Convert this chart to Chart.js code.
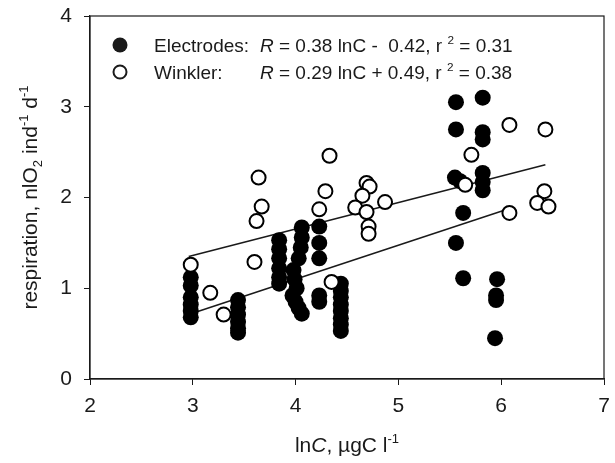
<!DOCTYPE html>
<html>
<head>
<meta charset="utf-8">
<script src="https://cdn.jsdelivr.net/npm/chart.js@4"></script>
<style>
  body { margin: 0; background: #fff; }
  #wrap { width: 615px; height: 463px; }
</style>
</head>
<body>
<div id="wrap"><canvas id="chart" width="615" height="463"></canvas></div>
<script>
// Electrodes (filled circles)
const electrodeX = [2.98, 2.98, 2.98, 2.98, 2.98, 2.98,
  3.44, 3.44, 3.44, 3.44, 3.44, 3.44,
  3.84, 3.84, 3.84, 3.84, 3.84, 3.84,
  4.06, 4.06, 4.05, 4.03, 3.98, 3.99, 4.01, 3.97, 4.0, 4.03, 4.06,
  4.23, 4.23, 4.23, 4.23, 4.23,
  4.44, 4.44, 4.44, 4.44, 4.44, 4.44, 4.44, 4.44,
  5.56, 5.56, 5.55, 5.6, 5.63, 5.56, 5.63,
  5.82, 5.82, 5.82, 5.82, 5.82, 5.82,
  5.96, 5.95, 5.95, 5.94];
const electrodeY = [1.12, 1.03, 0.9, 0.82, 0.75, 0.68,
  0.87, 0.79, 0.71, 0.63, 0.56, 0.51,
  1.53, 1.43, 1.33, 1.22, 1.12, 1.05,
  1.67, 1.56, 1.45, 1.33, 1.2, 1.1, 1.0, 0.92, 0.85, 0.78, 0.72,
  1.68, 1.5, 1.33, 0.92, 0.85,
  1.05, 0.97, 0.9, 0.82, 0.75, 0.67, 0.6, 0.53,
  3.05, 2.75, 2.22, 2.18, 1.83, 1.5, 1.11,
  3.1, 2.72, 2.64, 2.27, 2.17, 2.08,
  1.1, 0.92, 0.87, 0.45];

// Winkler (open circles)
const winklerX = [2.98, 3.17, 3.3, 3.64, 3.67, 3.62, 3.6,
  4.23, 4.29, 4.33, 4.35,
  4.69, 4.72, 4.65, 4.58, 4.69, 4.87, 4.71, 4.71,
  5.65, 5.71, 6.08, 6.08, 6.43, 6.42, 6.35, 6.46];
const winklerY = [1.26, 0.95, 0.71, 2.22, 1.9, 1.74, 1.29,
  1.87, 2.07, 2.46, 1.07,
  2.16, 2.12, 2.02, 1.89, 1.84, 1.95, 1.68, 1.6,
  2.14, 2.47, 2.8, 1.83, 2.75, 2.07, 1.94, 1.9];

// regression line end points
const electrodeFitX = [2.96, 6.03];
const electrodeFitY = [0.71, 1.86];
const winklerFitX = [2.96, 6.43];
const winklerFitY = [1.35, 2.36];

const xTicks = [2, 3, 4, 5, 6, 7];
const yTicks = [0, 1, 2, 3, 4];

const toPoints = (xs, ys) => xs.map((x, i) => ({ x, y: ys[i] }));

const FONT = "Liberation Sans, Arial, sans-serif";
const INK = "#1a1a1a";

// draws text runs with italic / sup / sub pieces
const drawRuns = (ctx, runs, x, y, size) => {
  runs.forEach(([text, style]) => {
    let fs = size, dy = 0;
    if (style === "sup") { fs = size * 0.62; dy = -size * 0.42; }
    if (style === "sub") { fs = size * 0.62; dy = size * 0.22; }
    ctx.font = (style === "i" ? "italic " : "") + fs + "px " + FONT;
    ctx.fillText(text, x, y + dy);
    x += ctx.measureText(text).width;
  });
  return x;
};

const runsWidth = (ctx, runs, size) => {
  let w = 0;
  runs.forEach(([text, style]) => {
    const fs = (style === "sup" || style === "sub") ? size * 0.62 : size;
    ctx.font = (style === "i" ? "italic " : "") + fs + "px " + FONT;
    w += ctx.measureText(text).width;
  });
  return w;
};

const decorPlugin = {
  id: "decor",
  afterDraw(chart) {
    const { ctx, chartArea: a } = chart;
    ctx.save();
    // frame
    ctx.strokeStyle = INK;
    ctx.lineWidth = 1.2;
    ctx.strokeRect(a.left, a.top, a.right - a.left, a.bottom - a.top);

    ctx.fillStyle = INK;
    ctx.textBaseline = "alphabetic";

    // x axis title
    const ts = 21;
    const xRuns = [["ln", ""], ["C", "i"], [", \u00b5gC l", ""], ["-1", "sup"]];
    const xw = runsWidth(ctx, xRuns, ts);
    drawRuns(ctx, xRuns, (a.left + a.right) / 2 - xw / 2, 452, ts);

    // y axis title (rotated)
    const yRuns = [["respiration, nlO", ""], ["2", "sub"], [" ind", ""], ["-1", "sup"], [" d", ""], ["-1", "sup"]];
    const yw = runsWidth(ctx, yRuns, ts);
    ctx.save();
    ctx.translate(37, (a.top + a.bottom) / 2);
    ctx.rotate(-Math.PI / 2);
    drawRuns(ctx, yRuns, -yw / 2, 0, ts);
    ctx.restore();

    // legend
    const ls = 19;
    ctx.lineWidth = 2;
    ctx.beginPath();
    ctx.arc(120, 45, 7.5, 0, Math.PI * 2);
    ctx.fill();
    ctx.beginPath();
    ctx.arc(120, 72, 6.5, 0, Math.PI * 2);
    ctx.fillStyle = "#fff";
    ctx.fill();
    ctx.stroke();
    ctx.fillStyle = INK;

    drawRuns(ctx, [["Electrodes:", ""]], 154, 52, ls);
    drawRuns(ctx, [["R", "i"], [" = 0.38 lnC -  0.42, r ", ""], ["2", "sup"], [" = 0.31", ""]], 260, 52, ls);
    drawRuns(ctx, [["Winkler:", ""]], 154, 79, ls);
    drawRuns(ctx, [["R", "i"], [" = 0.29 lnC + 0.49, r ", ""], ["2", "sup"], [" = 0.38", ""]], 260, 79, ls);
    ctx.restore();
  },
};

const lineSet = (xs, ys) => ({
  data: toPoints(xs, ys),
  showLine: true,
  borderColor: INK,
  borderWidth: 1.5,
  pointRadius: 0,
  fill: false,
  order: 3,
});

new Chart(document.getElementById("chart"), {
  type: "scatter",
  data: {
    datasets: [
      lineSet(electrodeFitX, electrodeFitY),
      lineSet(winklerFitX, winklerFitY),
      {
        label: "Electrodes",
        data: toPoints(electrodeX, electrodeY),
        pointRadius: 8,
        pointBackgroundColor: "#000",
        pointBorderColor: "#000",
        pointBorderWidth: 0,
        order: 2,
      },
      {
        label: "Winkler",
        data: toPoints(winklerX, winklerY),
        pointRadius: 7,
        pointBackgroundColor: "#fff",
        pointBorderColor: "#000",
        pointBorderWidth: 2,
        order: 1,
      },
    ],
  },
  options: {
    responsive: false,
    animation: false,
    layout: { padding: { top: 16, right: 11, left: 0, bottom: 0 } },
    plugins: { legend: { display: false }, tooltip: { enabled: false } },
    scales: {
      x: {
        type: "linear",
        min: 2,
        max: 7,
        afterBuildTicks: scale => { scale.ticks = xTicks.map(v => ({ value: v })); },
        afterFit: scale => {
          scale.height = 84;
          scale.paddingLeft = 0;
          scale.paddingRight = 0;
        },
        ticks: { color: INK, font: { size: 21, family: FONT }, padding: 9 },
        grid: { drawOnChartArea: false, drawTicks: true, tickLength: 6, color: INK },
        border: { color: INK, width: 1.2 },
      },
      y: {
        type: "linear",
        min: 0,
        max: 4,
        afterBuildTicks: scale => { scale.ticks = yTicks.map(v => ({ value: v })); },
        afterFit: scale => {
          scale.width = 90;
          scale.paddingTop = 0;
          scale.paddingBottom = 0;
        },
        ticks: { color: INK, font: { size: 21, family: FONT }, padding: 12 },
        grid: { drawOnChartArea: false, drawTicks: true, tickLength: 6, color: INK },
        border: { color: INK, width: 1.2 },
      },
    },
  },
  plugins: [decorPlugin],
});
</script>
</body>
</html>
